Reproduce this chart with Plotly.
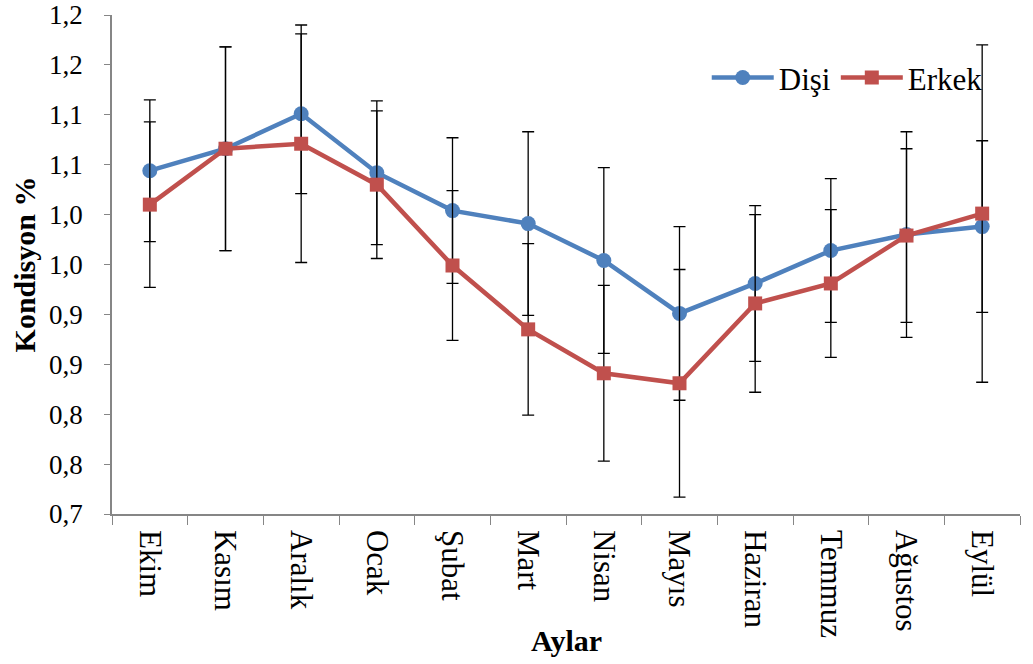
import plotly.graph_objects as go

months = ["Ekim", "Kasım", "Aralık", "Ocak", "Şubat", "Mart", "Nisan",
          "Mayıs", "Haziran", "Temmuz", "Ağustos", "Eylül"]
disi = [1.044, 1.066, 1.101, 1.042, 1.004, 0.991, 0.954, 0.901, 0.931, 0.964, 0.980, 0.988]
disi_err = [0.071, 0.102, 0.080, 0.072, 0.073, 0.092, 0.093, 0.087, 0.078, 0.072, 0.103, 0.086]
erkek = [1.010, 1.066, 1.071, 1.030, 0.949, 0.885, 0.841, 0.831, 0.911, 0.931, 0.979, 1.001]
erkek_err = [0.083, 0.102, 0.119, 0.074, 0.075, 0.086, 0.088, 0.114, 0.089, 0.074, 0.087, 0.169]

ytick_vals = [0.70, 0.75, 0.80, 0.85, 0.90, 0.95, 1.00, 1.05, 1.10, 1.15, 1.20]
ytick_text = ["0,7", "0,8", "0,8", "0,9", "0,9", "1,0", "1,0", "1,1", "1,1", "1,2", "1,2"]

FONT = "Liberation Serif"
BLUE = "#4F81BD"
RED = "#C0504D"
AXIS = "#868686"

fig = go.Figure()
fig.add_trace(go.Scatter(
    x=months, y=disi, name="Dişi", mode="lines+markers",
    line=dict(color=BLUE, width=4.5),
    marker=dict(symbol="circle", size=15, color=BLUE),
    error_y=dict(type="data", array=disi_err, visible=True,
                 color="black", thickness=1.3, width=6),
))
fig.add_trace(go.Scatter(
    x=months, y=erkek, name="Erkek", mode="lines+markers",
    line=dict(color=RED, width=4.5),
    marker=dict(symbol="square", size=14, color=RED),
    error_y=dict(type="data", array=erkek_err, visible=True,
                 color="black", thickness=1.3, width=6),
))

fig.update_layout(
    width=1033, height=664,
    margin=dict(l=112, r=13, t=15, b=150),
    plot_bgcolor="white", paper_bgcolor="white",
    font=dict(family=FONT, size=26, color="black"),
    showlegend=True,
    legend=dict(orientation="h", x=0.655, y=0.874, xanchor="left", yanchor="middle",
                font=dict(family=FONT, size=31, color="black"),
                bgcolor="rgba(0,0,0,0)", itemwidth=62, tracegroupgap=0),
    xaxis=dict(
        type="category", showgrid=False, showline=True, linecolor=AXIS, linewidth=1.5,
        ticks="outside", tickson="boundaries", ticklen=9, tickcolor=AXIS,
        tickangle=90, tickfont=dict(family=FONT, size=31, color="black"),
        ticklabelstandoff=8,
        range=[-0.5, 11.5], zeroline=False, automargin=False,
    ),
    yaxis=dict(
        range=[0.70, 1.20], tickvals=ytick_vals, ticktext=ytick_text,
        showgrid=False, showline=True, linecolor=AXIS, linewidth=1.5,
        ticks="outside", ticklen=6, tickcolor=AXIS,
        tickfont=dict(family=FONT, size=27, color="black"),
        ticklabelstandoff=16,
        title=dict(text="<b>Kondisyon %</b>", font=dict(family=FONT, size=30), standoff=5),
        zeroline=False, automargin=False,
    ),
    annotations=[dict(text="<b>Aylar</b>", xref="paper", yref="paper", x=0.5, y=-0.2545,
                      xanchor="center", yanchor="middle", showarrow=False,
                      font=dict(family=FONT, size=30, color="black"))],
)

fig.write_html("out.html", config={"displayModeBar": False},
               post_script="document.body.style.margin='0';")
